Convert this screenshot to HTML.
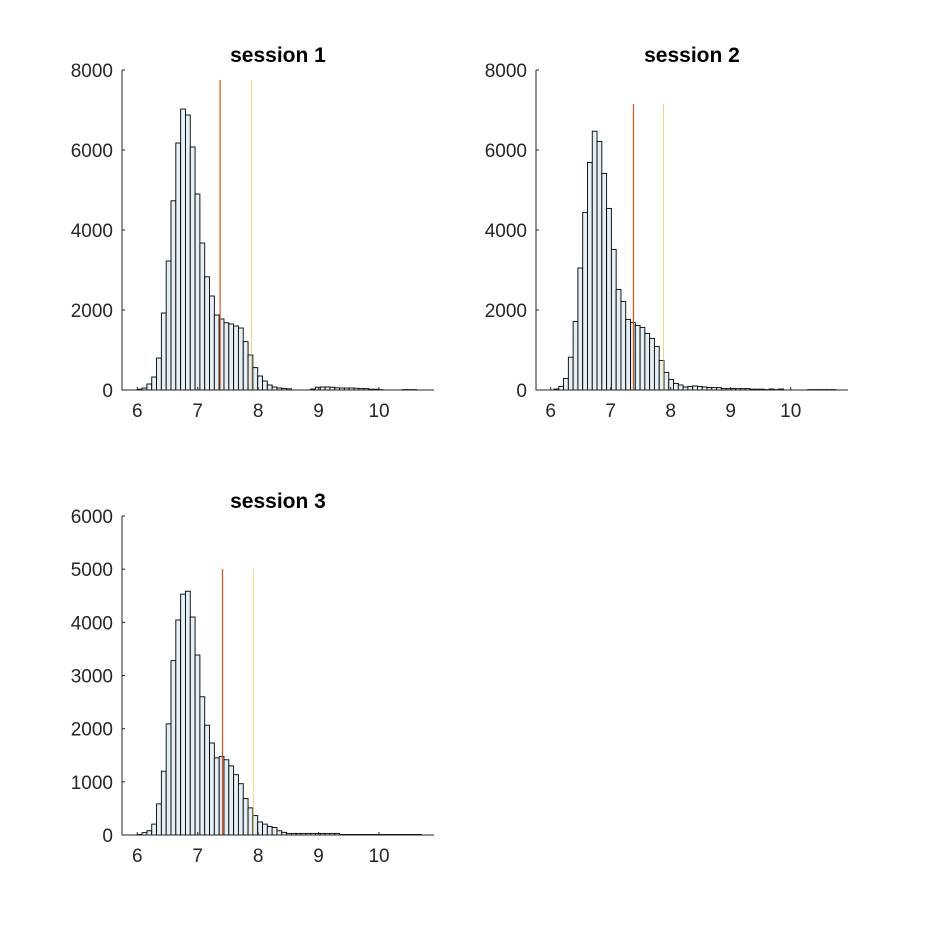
<!DOCTYPE html>
<html><head><meta charset="utf-8"><style>
html,body{margin:0;padding:0;background:#fff;}
svg text{font-family:"Liberation Sans",Arial,sans-serif;fill:#262626;}
</style></head><body>
<svg id="fig" width="938" height="938" viewBox="0 0 938 938" xmlns="http://www.w3.org/2000/svg"></svg>
<script>
// session 1 data
const s1Counts=[20,50,150,325,800,1925,3225,4730,6175,7025,6875,6075,4900,3675,2830,2350,1875,1775,1680,1650,1600,1550,1210,875,560,350,225,125,75,50,40,30,0,0,0,0,25,70,75,75,70,55,50,50,50,45,35,35,20,20,10,0,0,0,0,10,10,10];
const s1Start=6.0;
const s1Lines=[7.37,7.89];
const s1YTicks=[0,2000,4000,6000,8000];
// session 2 data
const s2Counts=[25,90,290,820,1715,3050,4440,5690,6470,6215,5415,4540,3515,2515,2215,1765,1690,1615,1565,1415,1290,1090,740,440,265,165,125,75,90,100,90,75,60,60,60,35,35,35,35,35,35,20,20,20,10,25,10,25,0,0,0,0,0,10,10,10,10,10,10];
const s2Start=6.055;
const s2Lines=[7.38,7.88];
const s2YTicks=[0,2000,4000,6000,8000];
// session 3 data
const s3Counts=[10,45,80,205,585,1200,2090,3280,4045,4530,4585,4100,3385,2600,2065,1730,1450,1475,1415,1300,1135,965,685,510,365,245,205,160,140,80,50,30,30,30,30,30,30,30,30,30,30,30,10,10,10,10,10,10,10,10,10,10,10,10,10,10,10,10,10];
const s3Start=6.0;
const s3Lines=[7.41,7.92];
const s3YTicks=[0,1000,2000,3000,4000,5000,6000];
const xTicks=[6,7,8,9,10];
const binW=0.0797;

const NS="http://www.w3.org/2000/svg";
const svg=document.getElementById('fig');
function mk(tag,attrs,parent){const e=document.createElementNS(NS,tag);for(const k in attrs)e.setAttribute(k,attrs[k]);(parent||svg).appendChild(e);return e;}

function panel(name,title,counts,start,lines,yTicks,px0,px1,xmin,xmax,py0,py1,ymax,lineTops){
  const g=mk('g',{});
  
  
  const X=v=>px0+(v-xmin)/(xmax-xmin)*(px1-px0);
  const Y=v=>py1-(v/ymax)*(py1-py0);
  const bars=mk('g',{},g);
  
  
  counts.forEach((c,i)=>{
    if(c<=0)return;
    const a=start+i*binW,b=a+binW;
    const r=mk('rect',{x:X(a),y:Y(c),width:X(b)-X(a),height:Y(0)-Y(c),fill:'#e4eff6',stroke:'#000','stroke-width':0.9},bars);
    
    
  });
  const cols=['#D95319','#EDB120'];
  lines.forEach((v,i)=>{
    const l=mk('line',{x1:X(v),x2:X(v),y1:Y(lineTops[i]),y2:Y(0),stroke:cols[i],'stroke-width':i==0?1.2:0.8,'stroke-opacity':i==0?1:0.7},g);
    
    
  });
  const ax=mk('path',{d:`M${px0},${py0}V${py1}H${px1}`,fill:'none',stroke:'#262626','stroke-width':1},g);
  
  
  yTicks.forEach(t=>{
    const y=Y(t);
    mk('line',{x1:px0,x2:px0+3,y1:y,y2:y,stroke:'#262626'},g);
    const tx=mk('text',{x:px0-9,y:y+7,'font-size':19,'text-anchor':'end'},g);
    tx.textContent=t;
    
    
  });
  xTicks.forEach(t=>{
    const x=X(t);
    mk('line',{x1:x,x2:x,y1:py1,y2:py1-3,stroke:'#262626'},g);
    const tx=mk('text',{x:x,y:py1+27,'font-size':19,'text-anchor':'middle'},g);
    tx.textContent=t;
    
    
  });
  const tt=mk('text',{x:(px0+px1)/2,y:py0-8,'font-size':21,'font-weight':'bold','text-anchor':'middle',fill:'#000'},g);
  tt.style.fill='#000';
  tt.textContent=title;
  
  
}
panel('session-1-panel','session 1',s1Counts,s1Start,s1Lines,s1YTicks,122,434,5.747,10.91,70,390,8000,[7750,7750]);
panel('session-2-panel','session 2',s2Counts,s2Start,s2Lines,s2YTicks,536,848,5.755,10.955,70,390,8000,[7150,7150]);
panel('session-3-panel','session 3',s3Counts,s3Start,s3Lines,s3YTicks,122,434,5.747,10.91,516,835,6000,[5000,5000]);
</script>
</body></html>
